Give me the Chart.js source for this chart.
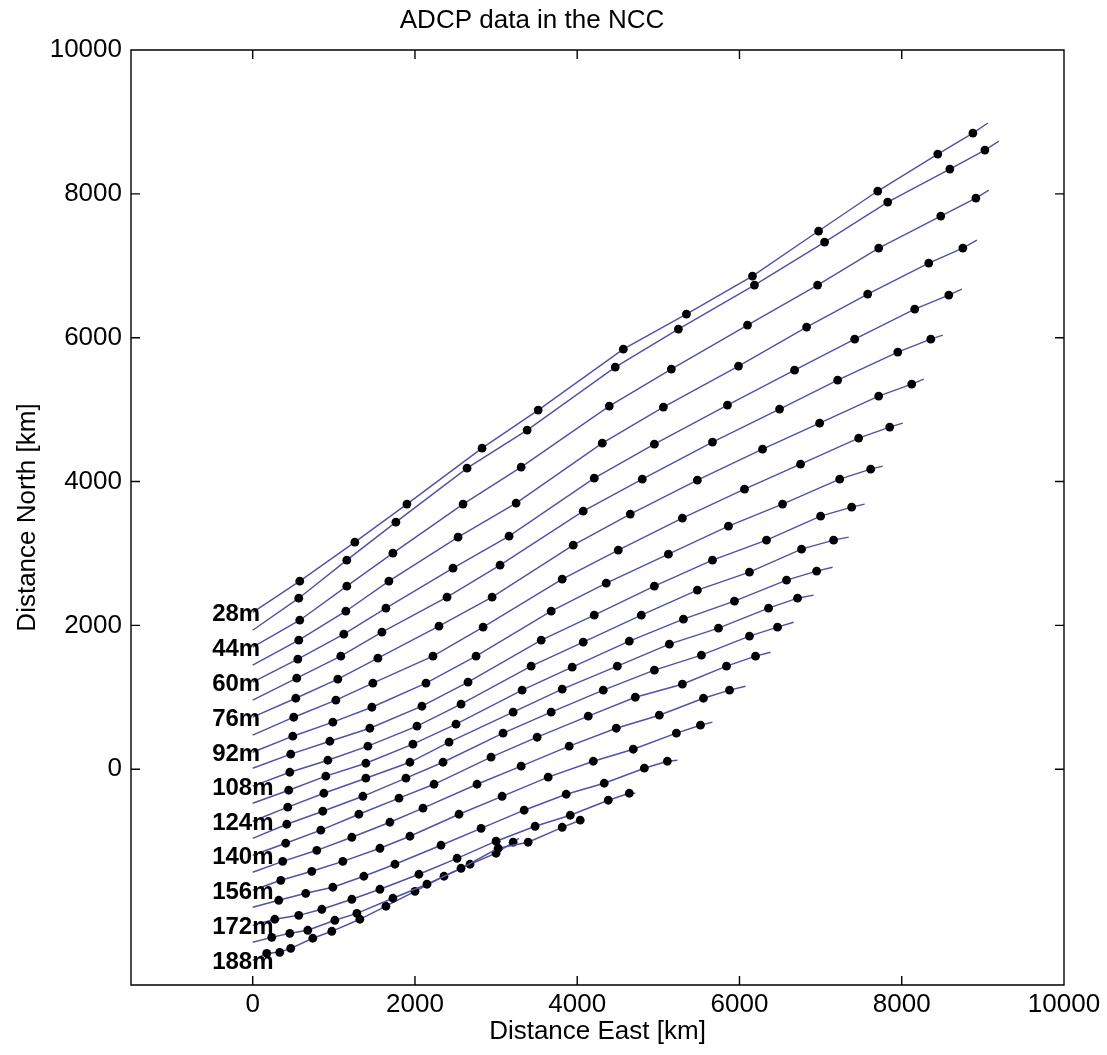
<!DOCTYPE html>
<html>
<head>
<meta charset="utf-8">
<title>ADCP data in the NCC</title>
<script src="https://cdn.jsdelivr.net/npm/chart.js@4.4.1/dist/chart.umd.min.js"></script>
<style>
  html, body { margin: 0; padding: 0; background: #fff; }
  #wrap { width: 1107px; height: 1055px; }
</style>
</head>
<body>
<div id="wrap"><canvas id="pvd" width="1107" height="1055"></canvas></div>
<script>
// Progressive vector tracks per depth bin, [east km, north km].
// First and last pairs are the track ends, the ones in between get a marker.
const depths = [28, 36, 44, 52, 60, 68, 76, 84, 92, 100, 108, 116, 124, 132, 140, 148, 156, 164, 172, 180, 188];

const track28 = [[0,2180],[580,2615],[1259,3157],[1901,3686],[2827,4464],[3519,4993],[4568,5841],[5346,6328],[6160,6857],[6975,7483],[7704,8039],[8444,8553],[8877,8845],[9062,8985]];
const track36 = [[0,1933],[568,2378],[1160,2907],[1765,3435],[2642,4186],[3383,4715],[4469,5591],[5247,6120],[6185,6731],[7049,7330],[7827,7886],[8593,8345],[9025,8609],[9198,8734]];
const track44 = [[0,1697],[580,2072],[1160,2545],[1728,3004],[2593,3686],[3309,4200],[4395,5049],[5160,5563],[6099,6175],[6963,6731],[7716,7246],[8481,7691],[8914,7941],[9074,8053]];
const track52 = [[0,1446],[568,1794],[1148,2197],[1679,2615],[2531,3227],[3247,3700],[4309,4534],[5062,5035],[5988,5605],[6827,6147],[7580,6606],[8333,7037],[8753,7246],[8926,7357]];
const track60 = [[0,1210],[556,1530],[1123,1878],[1642,2239],[2469,2796],[3160,3241],[4210,4047],[4951,4520],[5852,5063],[6679,5549],[7420,5980],[8160,6398],[8580,6592],[8741,6676]];
const track68 = [[0,960],[543,1266],[1086,1572],[1593,1905],[2395,2392],[3049,2837],[4074,3588],[4802,4033],[5667,4548],[6494,5007],[7210,5410],[7951,5800],[8358,5980],[8506,6036]];
const track76 = [[0,723],[531,987],[1049,1252],[1543,1544],[2296,1989],[2951,2392],[3951,3115],[4654,3547],[5481,4019],[6284,4450],[6988,4812],[7716,5188],[8123,5355],[8272,5424]];
const track84 = [[0,473],[506,723],[1025,960],[1481,1196],[2222,1572],[2840,1975],[3815,2643],[4506,3046],[5296,3491],[6062,3894],[6753,4242],[7469,4604],[7852,4757],[8012,4812]];
const track92 = [[0,236],[494,459],[988,654],[1469,862],[2136,1196],[2753,1572],[3679,2197],[4358,2587],[5124,2990],[5864,3380],[6531,3686],[7235,4033],[7617,4172],[7765,4214]];
const track100 = [[0,14],[469,209],[951,389],[1444,570],[2086,876],[2654,1210],[3556,1794],[4210,2142],[4951,2545],[5667,2907],[6333,3185],[7000,3519],[7383,3644],[7543,3686]];
const track108 = [[0,-236],[457,-42],[926,125],[1420,320],[2025,598],[2568,904],[3432,1433],[4074,1766],[4790,2142],[5481,2490],[6123,2740],[6765,3060],[7160,3185],[7346,3227]];
const track116 = [[0,-473],[444,-292],[901,-97],[1395,83],[1975,348],[2506,626],[3321,1099],[3938,1419],[4642,1780],[5309,2086],[5938,2337],[6580,2629],[6951,2754],[7148,2809]];
const track124 = [[0,-723],[432,-528],[877,-334],[1395,-125],[1938,97],[2420,376],[3210,793],[3815,1113],[4494,1433],[5136,1739],[5741,1961],[6358,2239],[6716,2378],[6914,2420]];
const track132 = [[0,-960],[420,-765],[864,-584],[1358,-376],[1889,-125],[2346,97],[3086,501],[3679,793],[4321,1099],[4951,1377],[5531,1586],[6123,1850],[6469,1975],[6667,2044]];
const track140 = [[0,-1196],[407,-1029],[840,-848],[1309,-626],[1803,-403],[2235,-209],[2938,167],[3506,445],[4136,737],[4716,1001],[5296,1182],[5840,1433],[6198,1572],[6383,1627]];
const track148 = [[0,-1432],[370,-1280],[790,-1127],[1222,-946],[1691,-737],[2099,-542],[2765,-209],[3309,42],[3901,320],[4481,570],[5012,751],[5556,987],[5877,1099],[6074,1154]];
const track156 = [[0,-1683],[346,-1544],[728,-1419],[1111,-1280],[1568,-1099],[1938,-932],[2543,-626],[3074,-376],[3642,-111],[4198,111],[4691,278],[5222,501],[5519,612],[5667,654]];
const track164 = [[0,-1919],[321,-1822],[654,-1725],[988,-1641],[1370,-1488],[1753,-1321],[2321,-1057],[2815,-821],[3346,-570],[3864,-348],[4333,-195],[4827,14],[5111,111],[5235,125]];
const track172 = [[0,-2170],[272,-2086],[568,-2031],[852,-1947],[1222,-1808],[1568,-1669],[2049,-1460],[2519,-1238],[3000,-1001],[3481,-793],[3914,-640],[4383,-431],[4642,-334],[4716,-334]];
const track180 = [[0,-2406],[235,-2337],[457,-2281],[679,-2239],[1012,-2100],[1284,-2003],[1728,-1794],[2148,-1599],[2568,-1377],[3025,-1099],[3395,-1015],[3815,-807],[4037,-709],[4074,-709]];
const track188 = [[0,-2656],[173,-2559],[333,-2545],[469,-2490],[741,-2350],[975,-2253],[1321,-2086],[1642,-1905],[2000,-1697],[2358,-1488],[2679,-1321],[3000,-1168],[3210,-1015],[3284,-960]];

// every other depth gets a label next to its starting point
const labelledDepths = [28, 44, 60, 76, 92, 108, 124, 140, 156, 172, 188];
const labelEast = -500;

const xTicks = [0, 2000, 4000, 6000, 8000, 10000];
const yTicks = [0, 2000, 4000, 6000, 8000, 10000];

const tracks = {
  28: track28, 36: track36, 44: track44, 52: track52, 60: track60, 68: track68,
  76: track76, 84: track84, 92: track92, 100: track100, 108: track108, 116: track116,
  124: track124, 132: track132, 140: track140, 148: track148, 156: track156,
  164: track164, 172: track172, 180: track180, 188: track188
};

const FONT = '"Liberation Sans", Arial, Helvetica, sans-serif';
Chart.defaults.font.family = FONT;
Chart.defaults.color = '#000';

// box around the axes with inward tick marks on all four sides
const framePlugin = {
  id: 'frame',
  afterDraw(chart) {
    const { ctx, chartArea: a, scales: { x, y } } = chart;
    const tl = 9;
    ctx.save();
    ctx.strokeStyle = '#000';
    ctx.lineWidth = 1.4;
    ctx.beginPath();
    ctx.rect(a.left, a.top, a.right - a.left, a.bottom - a.top);
    xTicks.forEach(v => {
      const px = x.getPixelForValue(v);
      ctx.moveTo(px, a.bottom); ctx.lineTo(px, a.bottom - tl);
      ctx.moveTo(px, a.top); ctx.lineTo(px, a.top + tl);
    });
    yTicks.forEach(v => {
      const py = y.getPixelForValue(v);
      ctx.moveTo(a.left, py); ctx.lineTo(a.left + tl, py);
      ctx.moveTo(a.right, py); ctx.lineTo(a.right - tl, py);
    });
    ctx.stroke();
    ctx.restore();
  }
};

// depth labels at the start of each labelled track
const depthLabels = {
  id: 'depthLabels',
  afterDatasetsDraw(chart) {
    const { ctx, scales: { x, y } } = chart;
    ctx.save();
    ctx.fillStyle = '#000';
    ctx.font = 'bold 24px ' + FONT;
    ctx.textAlign = 'left';
    ctx.textBaseline = 'middle';
    labelledDepths.forEach(d => {
      const start = tracks[d][0];
      ctx.fillText(d + 'm', x.getPixelForValue(labelEast), y.getPixelForValue(start[1]) + 2);
    });
    ctx.restore();
  }
};

const datasets = depths.map(d => {
  const t = tracks[d];
  return {
    label: d + 'm',
    data: t.map(p => ({ x: p[0], y: p[1] })),
    showLine: true,
    borderColor: '#5050a8',
    borderWidth: 1.4,
    tension: 0,
    pointRadius: t.map((p, i) => (i === 0 || i === t.length - 1) ? 0 : 4.4),
    pointBackgroundColor: '#000',
    pointBorderWidth: 0,
    pointHoverRadius: 0
  };
});

const plainNumber = v => String(v);

new Chart(document.getElementById('pvd'), {
  type: 'scatter',
  data: { datasets },
  options: {
    responsive: false,
    animation: false,
    devicePixelRatio: 1,
    events: [],
    layout: { padding: { top: 0, right: 43, bottom: 0, left: 0 } },
    plugins: {
      legend: { display: false },
      tooltip: { enabled: false },
      title: {
        display: true,
        text: 'ADCP data in the NCC',
        font: { size: 26, weight: 'normal', lineHeight: 1.2 },
        color: '#000',
        padding: { top: 5, bottom: 13.8 }
      }
    },
    scales: {
      x: {
        type: 'linear',
        min: -1500,
        max: 10000,
        afterBuildTicks: s => { s.ticks = xTicks.map(v => ({ value: v })); },
        afterFit: s => { s.height = 70; },
        grid: { display: false, drawTicks: false },
        border: { display: false },
        ticks: { font: { size: 26 }, padding: 4, maxRotation: 0, autoSkip: false, callback: plainNumber },
        title: { display: true, text: 'Distance East [km]', font: { size: 26 }, padding: { top: 0, bottom: 8 } }
      },
      y: {
        type: 'linear',
        min: -3000,
        max: 10000,
        afterBuildTicks: s => { s.ticks = yTicks.map(v => ({ value: v })); },
        afterFit: s => { s.width = 131; },
        grid: { display: false, drawTicks: false },
        border: { display: false },
        ticks: { font: { size: 26 }, padding: 9, autoSkip: false, callback: plainNumber },
        title: { display: true, text: 'Distance North [km]', font: { size: 26 }, padding: { top: 12, bottom: 0 } }
      }
    }
  },
  plugins: [framePlugin, depthLabels]
});
</script>
</body>
</html>
